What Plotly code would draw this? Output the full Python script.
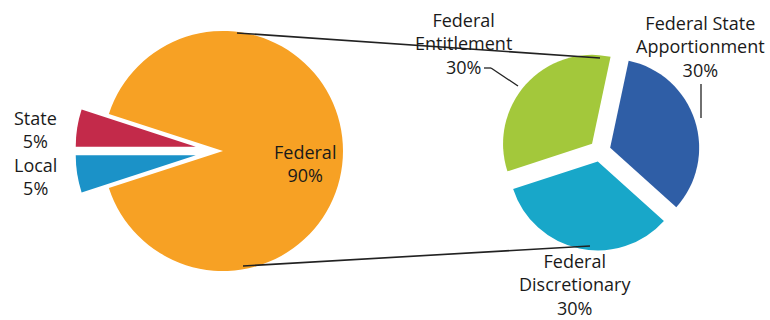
import plotly.graph_objects as go

W, H = 770, 320

# ---- data ----
src_labels = ["State", "Local", "Federal"]
src_values = [5, 5, 90]
src_colors = ["#C32A4A", "#1B92C8", "#F7A124"]
src_pull = [0.23, 0.23, 0]

fed_labels = ["Federal Entitlement", "Federal State Apportionment", "Federal Discretionary"]
fed_values = [30, 30, 30]
fed_colors = ["#A3C83B", "#2F5EA6", "#18A7C9"]
fed_pull = [0.12, 0.12, 0.12]

# annotation text lines (same labels, wrapped as in the picture)
src_text = ["State<br>5%", "Local<br>5%", "Federal<br>90%"]
fed_text = ["Federal<br>Entitlement<br>30%", "Federal State<br>Apportionment<br>30%",
            "Federal<br>Discretionary<br>30%"]


def box(cx, cy, r, pull):
    half = r * (1 + pull)
    return dict(x=[(cx - half) / W, (cx + half) / W],
                y=[1 - (cy + half) / H, 1 - (cy - half) / H])


fig = go.Figure()
fig.add_trace(go.Pie(
    labels=src_labels, values=src_values, sort=False,
    direction="counterclockwise", rotation=-90,
    pull=src_pull, textinfo="none", hoverinfo="label+percent",
    marker=dict(colors=src_colors, line=dict(width=0)),
    domain=box(223, 151, 120, max(src_pull)), showlegend=False,
))
fig.add_trace(go.Pie(
    labels=fed_labels, values=fed_values, sort=False,
    direction="clockwise", rotation=-108,
    pull=fed_pull, textinfo="none", hoverinfo="label+percent",
    marker=dict(colors=fed_colors, line=dict(width=0)),
    domain=box(600, 151, 89, max(fed_pull)), showlegend=False,
))

font = dict(family="Open Sans", size=18, color="#1a1a1a")
ann_pos = [(35, 129), (35, 176), (305, 163)]
ann_pos2 = [(463, 43), (700, 46), (575, 284)]
annotations = []
for t, (x, y) in zip(src_text + fed_text, ann_pos + ann_pos2):
    annotations.append(dict(text=t, x=x / W, y=1 - y / H, xref="paper", yref="paper",
                            xanchor="center", yanchor="middle", borderpad=0,
                            showarrow=False, font=font, align="center"))


def seg(x0, y0, x1, y1, w=1.6):
    return dict(type="line", xref="paper", yref="paper",
                x0=x0 / W, y0=1 - y0 / H, x1=x1 / W, y1=1 - y1 / H,
                line=dict(color="#222", width=w))


shapes = [
    seg(237, 33, 600, 58),
    seg(243, 266, 590, 246),
    seg(484, 68, 491, 68, 1.3),
    seg(491, 68, 518, 86, 1.3),
    seg(701, 84, 701, 118, 1.3),
]

fig.update_layout(width=W, height=H, margin=dict(l=0, r=0, t=0, b=0),
                  paper_bgcolor="white", plot_bgcolor="white",
                  annotations=annotations, shapes=shapes)
fig.write_html("out.html")
